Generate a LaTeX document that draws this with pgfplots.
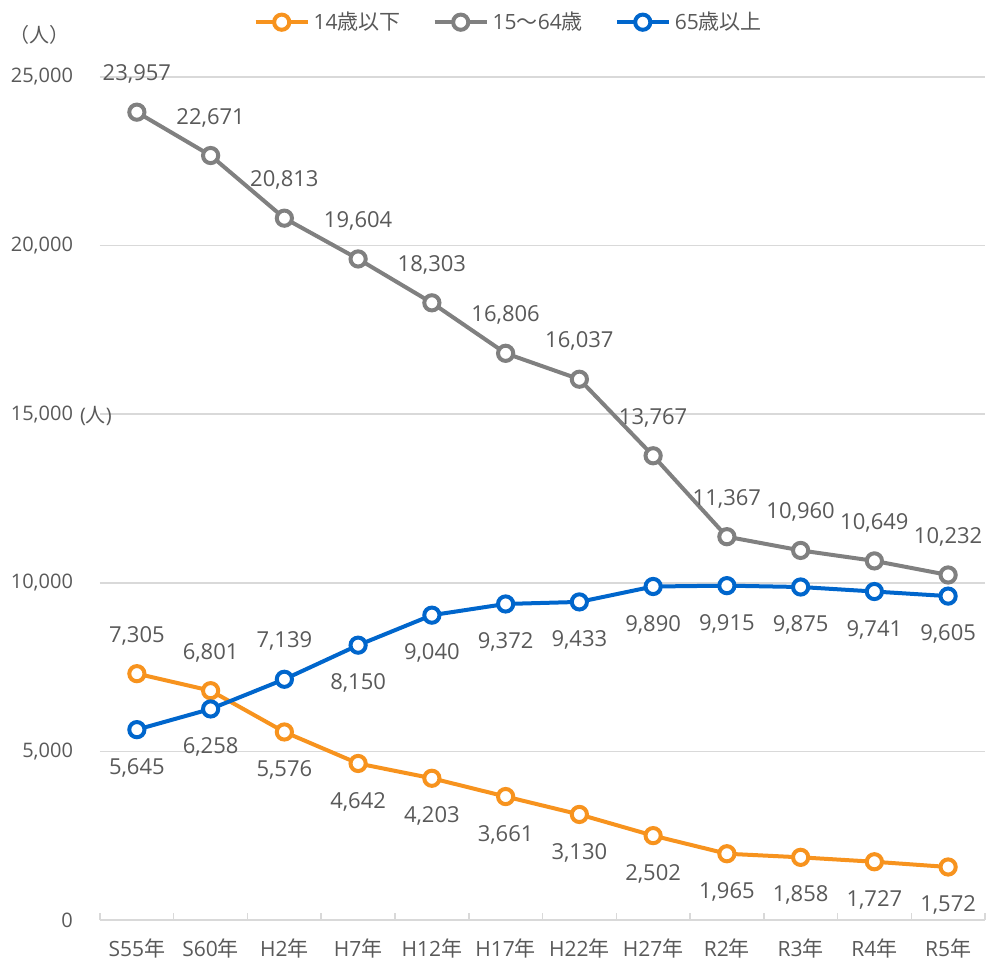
\documentclass[border=0pt]{standalone}
\usepackage{fontspec}
\setmainfont{Open Sans}
\newfontfamily\jp{Noto Sans CJK JP}
\usepackage{pgfplots}
\pgfplotsset{compat=1.18}
\definecolor{txt}{HTML}{595959}
\definecolor{gridc}{HTML}{D9D9D9}
\definecolor{cor}{HTML}{F7931E}
\definecolor{cgr}{HTML}{808080}
\definecolor{cbl}{HTML}{0066CC}
\pgfplotsset{
  ser/.style={#1, line width=2pt, mark=*, mark size=3.8pt,
    mark options={fill=white, line width=2pt, solid},
    nodes near coords, point meta=explicit symbolic,
    visualization depends on={value \thisrow{p} \as \pp},
    every node near coord/.append style={anchor=center, yshift=\pp*19pt,
      font=\fontsize{11}{13}\selectfont, text=txt}},
}
\begin{document}
\begin{tikzpicture}
\useasboundingbox (-50pt,-21.5pt) rectangle (443pt,460pt);
\begin{axis}[
  at={(0,0)}, anchor=south west,
  scale only axis, width=442.5pt, height=421.5pt,
  xmin=-0.5, xmax=11.5, ymin=0, ymax=25000,
  clip=false, scaled y ticks=false,
  axis lines*=left,
  x axis line style={draw=gridc, line width=0.75pt, -},
  y axis line style={draw=none},
  xtick={-0.5,0.5,...,11.5}, xticklabels={},
  xtick style={draw=gridc, line width=0.75pt},
  major tick length=3.5pt, tick align=inside,
  extra x ticks={0,1,...,11},
  extra x tick labels={S55{\jp 年},S60{\jp 年},H2{\jp 年},H7{\jp 年},H12{\jp 年},H17{\jp 年},H22{\jp 年},H27{\jp 年},R2{\jp 年},R3{\jp 年},R4{\jp 年},R5{\jp 年}},
  extra x tick style={major tick length=0pt, xticklabel style={yshift=-6pt, font=\fontsize{10.5}{12}\selectfont}},
  ytick={0,5000,10000,15000,20000,25000},
  yticklabels={0,{5,000},{10,000},{15,000},{20,000},{25,000}},
  ytick style={draw=none},
  yticklabel style={xshift=-10pt},
  ymajorgrids, grid style={draw=gridc, line width=0.75pt},
  tick label style={font=\fontsize{10}{12}\selectfont, text=txt},
  legend style={at={(0.463,1.065)}, anchor=center, draw=none, fill=none,
    legend columns=3, font=\fontsize{10.5}{12}\selectfont, text=txt,
    /tikz/every even column/.append style={column sep=14pt}},
  legend image code/.code={\draw[mark repeat=2,mark phase=2,#1] plot coordinates {(0pt,0pt) (13pt,0pt) (26pt,0pt)};},
]
\addplot[ser=cor] table[x=x,y=y,meta=l]{
x y l p
0 7305 7,305 1
1 6801 6,801 1
2 5576 5,576 -1
3 4642 4,642 -1
4 4203 4,203 -1
5 3661 3,661 -1
6 3130 3,130 -1
7 2502 2,502 -1
8 1965 1,965 -1
9 1858 1,858 -1
10 1727 1,727 -1
11 1572 1,572 -1
};
\addlegendentry{14{\jp 歳以下}}
\addplot[ser=cgr] table[x=x,y=y,meta=l]{
x y l p
0 23957 23,957 1
1 22671 22,671 1
2 20813 20,813 1
3 19604 19,604 1
4 18303 18,303 1
5 16806 16,806 1
6 16037 16,037 1
7 13767 13,767 1
8 11367 11,367 1
9 10960 10,960 1
10 10649 10,649 1
11 10232 10,232 1
};
\addlegendentry{15{\jp 〜}64{\jp 歳}}
\addplot[ser=cbl] table[x=x,y=y,meta=l]{
x y l p
0 5645 5,645 -1
1 6258 6,258 -1
2 7139 7,139 1
3 8150 8,150 -1
4 9040 9,040 -1
5 9372 9,372 -1
6 9433 9,433 -1
7 9890 9,890 -1
8 9915 9,915 -1
9 9875 9,875 -1
10 9741 9,741 -1
11 9605 9,605 -1
};
\addlegendentry{65{\jp 歳以上}}
\end{axis}
\node[text=txt, font=\fontsize{10}{12}\selectfont\jp] at (-30pt,442.5pt) {（人）};
\node[text=txt, font=\fontsize{10}{12}\selectfont] at (-2pt,252pt) {({\jp 人})};
\end{tikzpicture}
\end{document}
